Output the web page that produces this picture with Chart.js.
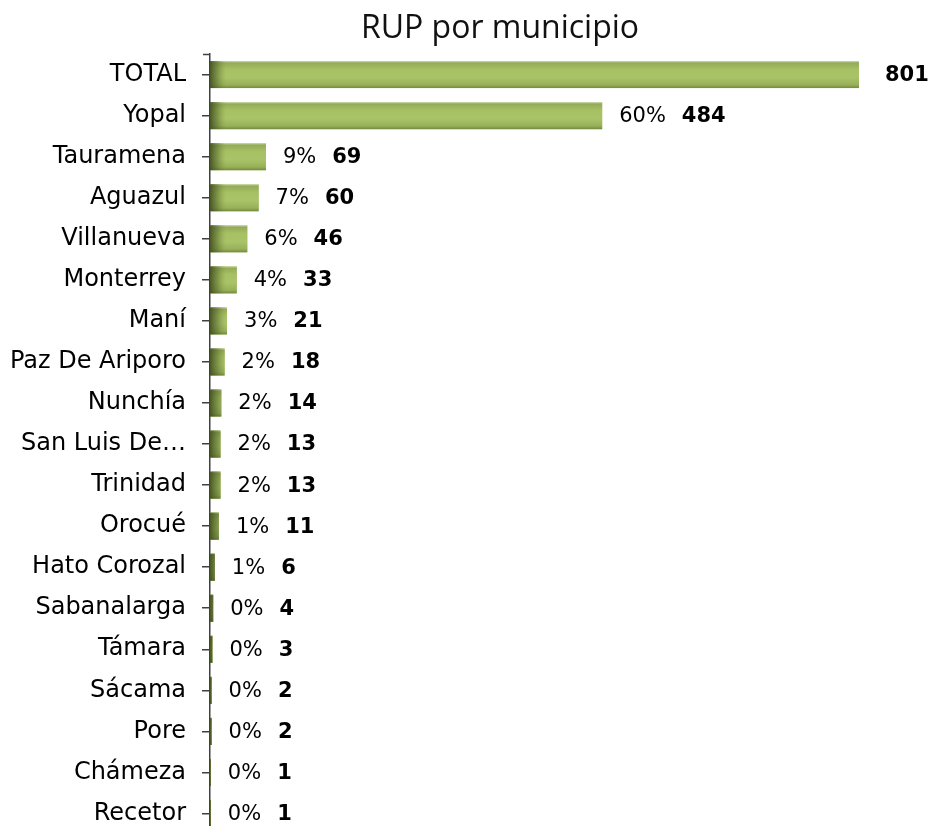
<!DOCTYPE html>
<html>
<head>
<meta charset="utf-8">
<title>RUP por municipio</title>
<script src="https://cdn.jsdelivr.net/npm/chart.js@4.4.1/dist/chart.umd.min.js"></script>
<style>
    html, body { margin: 0; padding: 0; background: #fff; overflow: hidden; }
    #wrap { position: relative; width: 930px; height: 834px; }
</style>
</head>
<body>
<div id="wrap"><canvas id="rup-chart"></canvas></div>
<script>
    // Data
    const municipios = ['TOTAL', 'Yopal', 'Tauramena', 'Aguazul', 'Villanueva', 'Monterrey', 'Maní',
        'Paz De Ariporo', 'Nunchía', 'San Luis De…', 'Trinidad', 'Orocué', 'Hato Corozal',
        'Sabanalarga', 'Támara', 'Sácama', 'Pore', 'Chámeza', 'Recetor'];
    const registros = [801, 484, 69, 60, 46, 33, 21, 18, 14, 13, 13, 11, 6, 4, 3, 2, 2, 1, 1];
    const porcentajes = ['', '60%', '9%', '7%', '6%', '4%', '3%', '2%', '2%', '2%', '2%', '1%', '1%',
        '0%', '0%', '0%', '0%', '0%', '0%'];
    const titulo = 'RUP por municipio';

    const FONT = '"DejaVu Sans", sans-serif';
    const AXIS_COLOR = '#404040';

    /**
     * Shade each bar: vertical bevel plus a dark left edge
     */
    const barShading = {
        id: 'barShading',
        afterDatasetsDraw(chart) {
            const ctx = chart.ctx;
            chart.getDatasetMeta(0).data.forEach((bar) => {
                const top = bar.y - bar.height / 2;
                const left = Math.min(bar.base, bar.x);
                const w = Math.abs(bar.x - bar.base);
                if (w <= 0) {
                    return;
                }
                ctx.save();
                const v = ctx.createLinearGradient(0, top, 0, top + bar.height);
                v.addColorStop(0, '#d2dfb4');
                v.addColorStop(0.07, '#93aa58');
                v.addColorStop(0.3, '#a6c063');
                v.addColorStop(0.6, '#a9c468');
                v.addColorStop(0.88, '#98b159');
                v.addColorStop(1, '#73893f');
                ctx.fillStyle = v;
                ctx.fillRect(left, top, w, bar.height);

                const edge = Math.min(w, 16);
                const h = ctx.createLinearGradient(left, 0, left + 16, 0);
                h.addColorStop(0, 'rgba(58, 70, 28, 0.85)');
                h.addColorStop(0.5, 'rgba(80, 96, 40, 0.45)');
                h.addColorStop(1, 'rgba(120, 140, 60, 0)');
                ctx.fillStyle = h;
                ctx.fillRect(left, top, edge, bar.height);
                ctx.restore();
            });
        }
    };

    /**
     * Percentage (regular) and count (bold) after each bar, the axis top cap and the title
     */
    const barLabels = {
        id: 'barLabels',
        afterDraw(chart) {
            const ctx = chart.ctx;
            const area = chart.chartArea;
            ctx.save();
            ctx.fillStyle = '#000';
            ctx.textBaseline = 'middle';
            ctx.textAlign = 'left';
            chart.getDatasetMeta(0).data.forEach((bar, i) => {
                let x = bar.x + 17;
                const y = bar.y + 1;
                if (porcentajes[i]) {
                    ctx.font = '21px ' + FONT;
                    ctx.fillText(porcentajes[i], x, y);
                    x += ctx.measureText(porcentajes[i]).width + 16;
                } else {
                    x += 9;
                }
                ctx.font = 'bold 21px ' + FONT;
                ctx.fillText(String(registros[i]), x, y);
            });

            // short cap at the top of the axis
            ctx.strokeStyle = AXIS_COLOR;
            ctx.lineWidth = 1.5;
            ctx.beginPath();
            ctx.moveTo(area.left - 7, area.top + 0.5);
            ctx.lineTo(area.left, area.top + 0.5);
            ctx.stroke();

            ctx.font = '32px "Open Sans", sans-serif';
            ctx.textAlign = 'center';
            ctx.fillStyle = '#111';
            ctx.fillText(titulo, 500, 29);
            ctx.restore();
        }
    };

    const ctx = document.getElementById('rup-chart').getContext('2d');

    const chart = new Chart(ctx, {
        type: 'bar',
        data: {
            labels: municipios,
            datasets: [{
                data: registros,
                backgroundColor: '#9bbb59',
                borderWidth: 0,
                categoryPercentage: 1,
                barPercentage: 0.66
            }]
        },
        options: {
            indexAxis: 'y',
            responsive: true,
            maintainAspectRatio: false,
            animation: false,
            layout: {
                padding: { top: 54, right: 71, bottom: 0, left: 0 }
            },
            plugins: {
                legend: { display: false },
                tooltip: { enabled: false }
            },
            scales: {
                x: {
                    display: false,
                    min: 0,
                    max: 801
                },
                y: {
                    afterFit: function(scale) {
                        scale.width = 210;
                        scale.paddingTop = 0;
                        scale.paddingBottom = 0;
                    },
                    border: { display: true, color: AXIS_COLOR, width: 1.5 },
                    grid: {
                        offset: false,
                        drawOnChartArea: false,
                        drawTicks: true,
                        tickLength: 8,
                        color: AXIS_COLOR,
                        lineWidth: 1.5
                    },
                    ticks: {
                        color: '#000',
                        padding: 16,
                        font: { family: FONT, size: 24 }
                    }
                }
            }
        },
        plugins: [barShading, barLabels]
    });
</script>
</body>
</html>
